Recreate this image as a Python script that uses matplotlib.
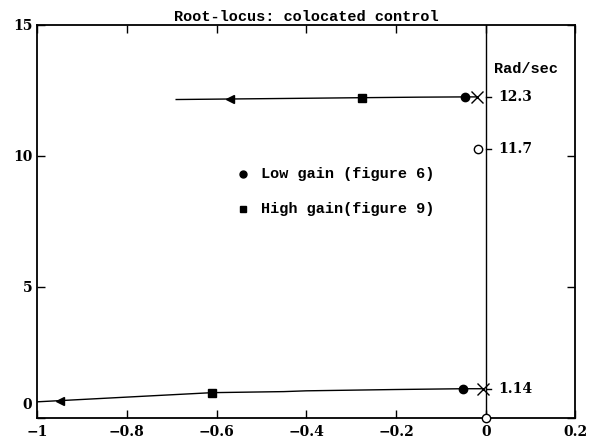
import matplotlib
matplotlib.use("Agg")
import matplotlib.pyplot as plt
import matplotlib.transforms as mtransforms
import numpy as np

# Upper branch (x = real part, y = imaginary part)
upper_x = [-0.02, -0.047, -0.15, -0.276, -0.45, -0.571, -0.69]
upper_y = [12.25, 12.25, 12.24, 12.22, 12.19, 12.17, 12.15]
# Lower branch
lower_x = [-0.005, -0.05, -0.2, -0.4, -0.45, -0.61, -0.8, -0.95, -1.0]
lower_y = [1.11, 1.11, 1.08, 1.03, 1.00, 0.96, 0.79, 0.655, 0.61]

poles_x = [-0.02, -0.005]
poles_y = [12.25, 1.11]
zeros_x = [-0.018, 0.0]
zeros_y = [10.28, 0.0]
low_gain_x = [-0.047, -0.05]
low_gain_y = [12.25, 1.11]
high_gain_x = [-0.276, -0.61]
high_gain_y = [12.22, 0.96]
arrow_x = [-0.571, -0.95]
arrow_y = [12.17, 0.655]

freq_labels = ["12.3", "11.7", "1.14"]
freq_label_y = [12.25, 10.28, 1.11]

xticks = [-1, -0.8, -0.6, -0.4, -0.2, 0, 0.2]
xticklabels = ["\u22121", "\u22120.8", "\u22120.6", "\u22120.4", "\u22120.2", "0", "0.2"]
yticks = [0, 5, 10, 15]

fig = plt.figure(figsize=(5.89, 4.44), dpi=100)
ax = fig.add_axes([0.063, 0.059, 0.914, 0.885])
font = dict(family="DejaVu Serif", fontweight="bold")
mono = dict(family="Liberation Mono", fontweight="bold")

ax.plot(upper_x, upper_y, color="black", lw=1.0)
ax.plot(lower_x, lower_y, color="black", lw=1.0)
ax.axvline(0, color="black", lw=1.0)
ax.plot(poles_x, poles_y, "x", color="black", ms=8, mew=1.0)
ax.plot(zeros_x, zeros_y, "o", mfc="white", mec="black", ms=6, mew=1.0, clip_on=False, zorder=5)
ax.plot(low_gain_x, low_gain_y, "o", color="black", ms=6)
ax.plot(high_gain_x, high_gain_y, "s", color="black", ms=5.5)
ax.plot(arrow_x, arrow_y, "<", color="black", ms=6)

for lab, yy in zip(freq_labels, freq_label_y):
    ax.plot([0, 0.012], [yy, yy], color="black", lw=1.0)
    ax.text(0.027, yy, lab, va="center", ha="left", fontsize=10, **font)
ax.text(0.018, 13.3, "Rad/sec", va="center", ha="left", fontsize=11, **mono)

ax.plot([-0.542], [9.32], "o", color="black", ms=5)
ax.text(-0.50, 9.32, "Low gain (figure 6)", va="center", ha="left", fontsize=11, **mono)
ax.plot([-0.542], [7.98], "s", color="black", ms=5)
ax.text(-0.50, 7.98, "High gain(figure 9)", va="center", ha="left", fontsize=11, **mono)

ax.set_xlim(-1, 0.2)
ax.set_ylim(0, 15)
ax.set_xticks(xticks)
ax.set_xticklabels(xticklabels, **font)
ax.set_yticks(yticks)
ax.set_yticklabels([str(t) for t in yticks], **font)
ax.tick_params(direction="in", length=6, width=1, top=True, right=True, labelsize=10)
ax.tick_params(axis="x", pad=5)
# raise the "0" y label above the x-axis, as in the original
lbl0 = ax.get_yticklabels()[0]
lbl0.set_transform(lbl0.get_transform() + mtransforms.ScaledTranslation(0, 10 / 72, fig.dpi_scale_trans))
for s in ax.spines.values():
    s.set_linewidth(1.3)
ax.set_title("Root-locus: colocated control", fontsize=11, pad=3, **mono)

fig.savefig("out.png", dpi=100)
